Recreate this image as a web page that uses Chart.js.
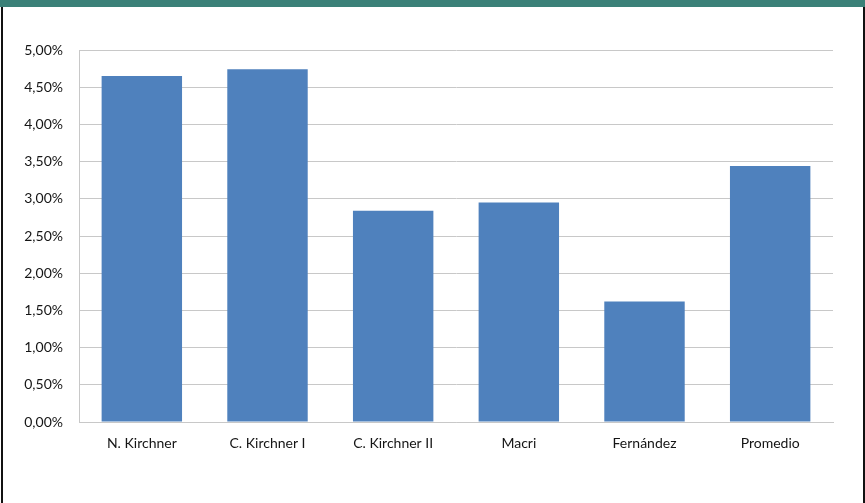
<!DOCTYPE html>
<html>
<head>
<meta charset="utf-8">
<script src="https://cdn.jsdelivr.net/npm/chart.js@4"></script>
<style>
  body { margin: 0; background: #fff; width: 865px; height: 503px; position: relative; overflow: hidden; }
  #band { position: absolute; left: 0; top: 0; width: 865px; height: 7px; background: #3b8178; }
  #lb { position: absolute; left: 1px; top: 7px; width: 2px; height: 496px; background: #111; }
  #rb { position: absolute; left: 863px; top: 7px; width: 2px; height: 496px; background: #111; }
  #wrap { position: absolute; left: 3px; top: 7px; width: 860px; height: 496px; }
</style>
</head>
<body>
<div id="band"></div>
<div id="lb"></div>
<div id="rb"></div>
<div id="wrap"><canvas id="grafico"></canvas></div>
<script>
// datos
var presidentes = ['N. Kirchner', 'C. Kirchner I', 'C. Kirchner II', 'Macri', 'Fernández', 'Promedio'];
var valores = [4.65, 4.74, 2.84, 2.95, 1.62, 3.44];
var ticksY = [0, 0.5, 1, 1.5, 2, 2.5, 3, 3.5, 4, 4.5, 5];

var gris = '#c8c8c8';
var fuente = { family: 'Lato', size: 14 };

var ctx = document.querySelector('#grafico');
var myChart = new Chart(ctx, {
	type: 'bar',
	data: {
		labels: presidentes,
		datasets: [{
			data: valores,
			backgroundColor: '#4f81bd',
			borderWidth: 0,
			barPercentage: 0.64,
			categoryPercentage: 1
		}]
	},
	options: {
		responsive: true,
		maintainAspectRatio: false,
		animation: false,
		layout: { padding: { top: 43, right: 30, left: 0, bottom: 0 } },
		plugins: {
			legend: { display: false },
			tooltip: { enabled: false }
		},
		scales: {
			x: {
				grid: { display: false, drawTicks: false },
				border: { color: gris, width: 1 },
				ticks: { color: '#151515', font: fuente, padding: 13, maxRotation: 0 },
				afterFit: function(s){ s.height = 81; }
			},
			y: {
				min: 0,
				max: 5,
				afterBuildTicks: function(s){ s.ticks = ticksY.map(v => ({ value: v })); },
				grid: { color: gris, drawTicks: false },
				border: { color: gris, width: 1 },
				ticks: {
					color: '#151515',
					font: fuente,
					padding: 16,
					callback: v => v.toFixed(2).replace('.', ',') + '%'
				},
				afterFit: function(s){ s.width = 76; }
			}
		}
	}
});
</script>
</body>
</html>
